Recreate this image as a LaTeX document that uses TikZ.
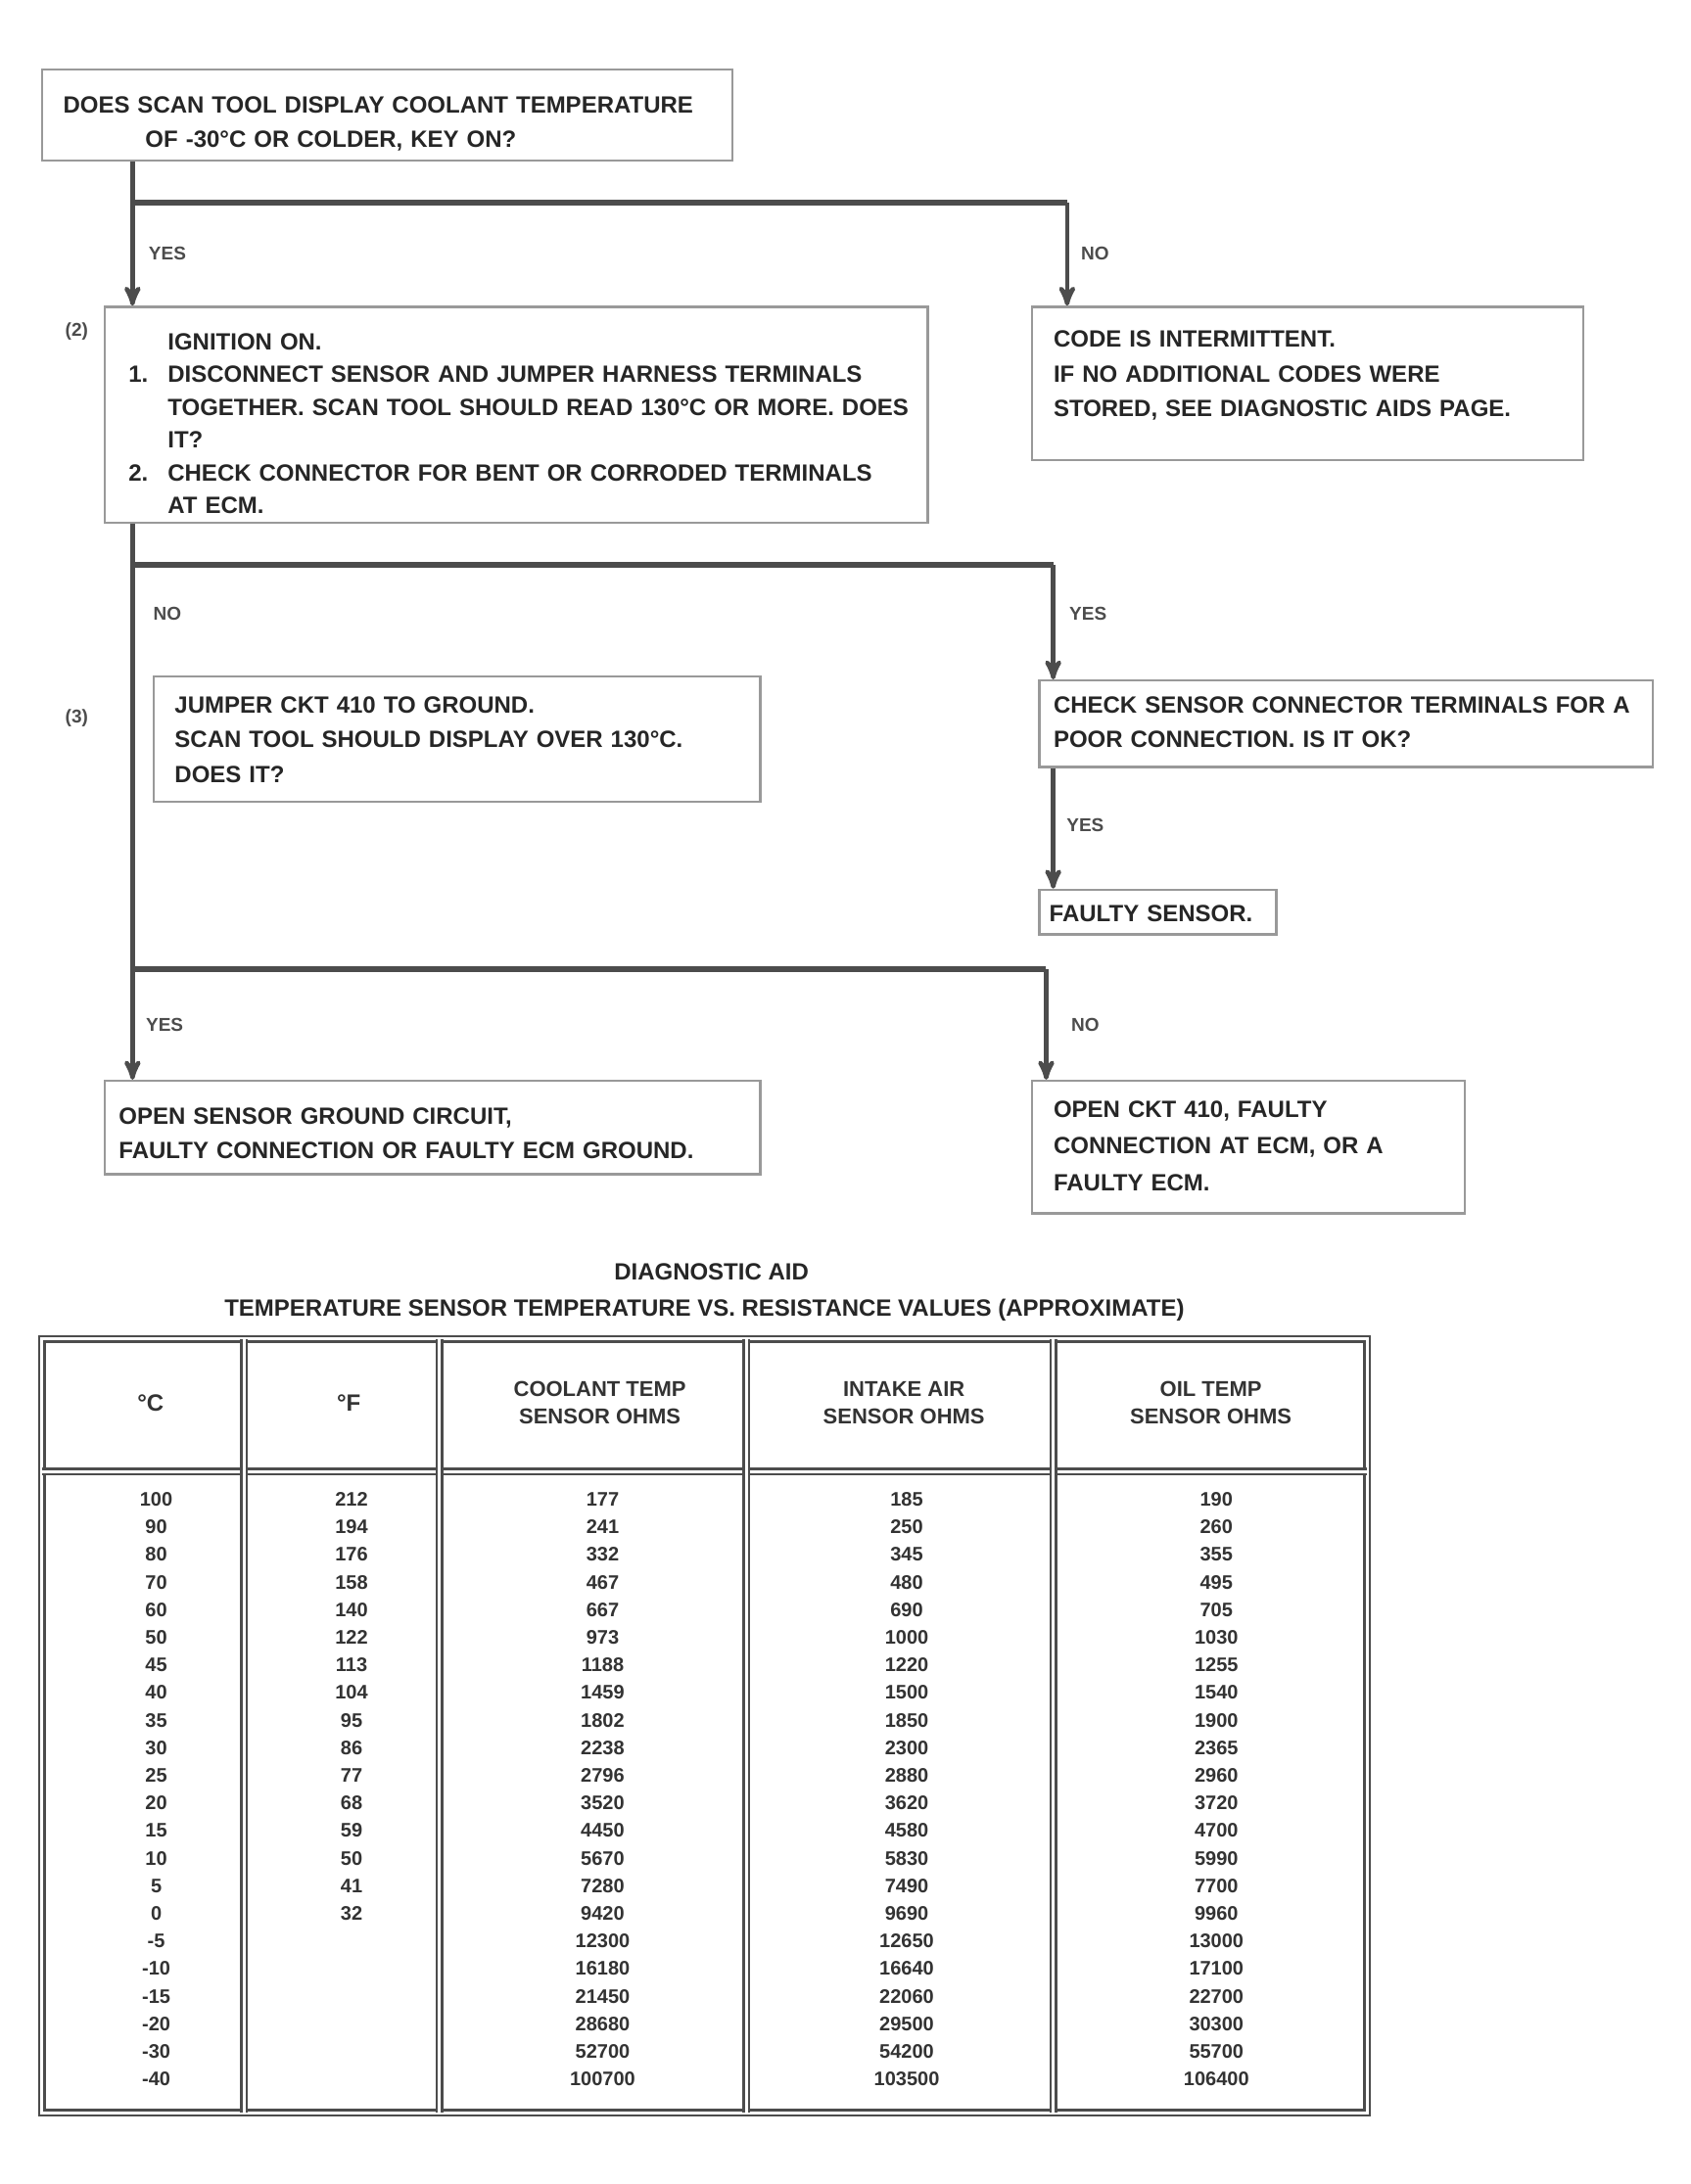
\documentclass[tikz,border=0pt]{standalone}
\usepackage{fontspec}
\setmainfont{Liberation Sans}
\usetikzlibrary{arrows,fit}

\begin{document}
\begin{tikzpicture}[x=0.7125pt,y=-0.7125pt,>=stealth',
    box/.style={draw=black!40,line width=1.2pt,inner sep=0pt},
    txt/.style={anchor=base west,align=left,inner sep=0pt,text width=420pt,
                font=\bfseries\fontsize{12}{17.8}\selectfont,text=black!85},
    bar/.style={line width=3pt,draw=black!70},
    drop/.style={line width=2.2pt,draw=black!70,->},
    lbl/.style={font=\bfseries\fontsize{9.5}{10}\selectfont,text=black!70,inner sep=0pt},
    cell/.style={font=\bfseries\fontsize{10}{12}\selectfont,text=black!80,inner sep=0pt},
    grid/.style={draw=black!70,double=white,double distance=1.5pt,line width=1.3pt}]

    \fill[white] (0,0) rectangle (1212,1566);
    \useasboundingbox (0,0) rectangle (1212,1566);

    % frames of the chart boxes
    \node[box,fit={(30,50) (525,115)}]    (start) {};
    \node[box,fit={(75,220) (665,375)}]   (jump)  {};
    \node[box,fit={(740,220) (1135,330)}] (inter) {};
    \node[box,fit={(110,485) (545,575)}]  (gnd)   {};
    \node[box,fit={(745,488) (1185,550)}] (conn)  {};
    \node[box,fit={(745,638) (915,670)}]  (sens)  {};
    \node[box,fit={(75,775) (545,842)}]   (opengnd) {};
    \node[box,fit={(740,775) (1050,870)}] (openckt) {};

    % texts of the chart boxes
    \node[txt] (startT) at (45,81) {DOES SCAN TOOL DISPLAY COOLANT TEMPERATURE\\
        \hspace*{42pt}OF -30°C OR COLDER, KEY ON?};
    \node[txt,font=\bfseries\fontsize{12}{16.7}\selectfont] (jumpT) at (120,251) {IGNITION ON.\\
        \leavevmode\llap{1.\hspace{10pt}}DISCONNECT SENSOR AND JUMPER HARNESS TERMINALS\\
        TOGETHER. SCAN TOOL SHOULD READ 130°C OR MORE. DOES\\
        IT?\\
        \leavevmode\llap{2.\hspace{10pt}}CHECK CONNECTOR FOR BENT OR CORRODED TERMINALS\\
        AT ECM.};
    \node[txt] (interT) at (755,249) {CODE IS INTERMITTENT.\\
        IF NO ADDITIONAL CODES WERE\\
        STORED, SEE DIAGNOSTIC AIDS PAGE.};
    \node[txt] (gndT) at (125,511) {JUMPER CKT 410 TO GROUND.\\
        SCAN TOOL SHOULD DISPLAY OVER 130°C.\\
        DOES IT?};
    \node[txt] (connT) at (755,511) {CHECK SENSOR CONNECTOR TERMINALS FOR A\\
        POOR CONNECTION. IS IT OK?};
    \node[txt] (sensT) at (752,661) {FAULTY SENSOR.};
    \node[txt] (opengndT) at (85,806) {OPEN SENSOR GROUND CIRCUIT,\\
        FAULTY CONNECTION OR FAULTY ECM GROUND.};
    \node[txt,font=\bfseries\fontsize{12}{18.8}\selectfont] (opencktT) at (755,801) {OPEN CKT 410, FAULTY\\
        CONNECTION AT ECM, OR A\\
        FAULTY ECM.};

    % step numbers beside the boxes
    \node[lbl] (n2) at (55,238) {(2)};
    \node[lbl] (n3) at (55,515) {(3)};

    % branch points
    \coordinate (br1l) at (95,145);  \coordinate (br1r) at (765,145);
    \coordinate (br2l) at (95,405);  \coordinate (br2r) at (755,405);
    \coordinate (br3l) at (95,695);  \coordinate (br3r) at (750,695);

    \draw[bar] (br1l) -- (br1r);
    \draw[bar] (br2l) -- (br2r);
    \draw[bar] (br3l) -- (br3r);

    \draw[drop] (start.south -| br1l) -- (jump.north -| br1l);
    \draw[drop] (br1r) -- (inter.north -| br1r);
    \draw[drop,-] (jump.south -| br2l) -- (br2l);
    \draw[drop] (br2l) -- (opengnd.north -| br2l);
    \draw[drop] (br2r) -- (conn.north -| br2r);
    \draw[drop] (conn.south -| br2r) -- (sens.north -| br2r);
    \draw[drop] (br3r) -- (openckt.north -| br3r);

    % answers on the branches
    \node[lbl] (a1) at (120,182) {YES};
    \node[lbl] (a2) at (785,182) {NO};
    \node[lbl] (a3) at (120,440) {NO};
    \node[lbl] (a4) at (780,440) {YES};
    \node[lbl] (a5) at (778,592) {YES};
    \node[lbl] (a6) at (118,735) {YES};
    \node[lbl] (a7) at (778,735) {NO};

    % diagnostic aid table
    \node[txt,anchor=base,text width=,align=center] (aidT) at (510,918) {DIAGNOSTIC AID};
    \node[txt,anchor=base,text width=,align=center] (aidS) at (505,944)
        {TEMPERATURE SENSOR TEMPERATURE VS. RESISTANCE VALUES (APPROXIMATE)};

    \draw[grid] (30,960) rectangle (980,1515);
    \draw[grid] (30,1055) -- (980,1055);
    \foreach \cx in {175,315,535,755}
        \draw[grid] (\cx,960) -- (\cx,1515);

    \node[cell,font=\bfseries\fontsize{12}{13}\selectfont] (hC) at (108,1006) {°C};
    \node[cell,font=\bfseries\fontsize{12}{13}\selectfont] (hF) at (250,1006) {°F};
    \node[cell,align=center,font=\bfseries\fontsize{11}{14}\selectfont] (hA) at (430,1006) {COOLANT TEMP\\SENSOR OHMS};
    \node[cell,align=center,font=\bfseries\fontsize{11}{14}\selectfont] (hB) at (648,1006) {INTAKE AIR\\SENSOR OHMS};
    \node[cell,align=center,font=\bfseries\fontsize{11}{14}\selectfont] (hD) at (868,1006) {OIL TEMP\\SENSOR OHMS};

    \foreach \v [count=\i] in {100,90,80,70,60,50,45,40,35,30,25,20,15,10,5,0,-5,-10,-15,-20,-30,-40}
        \node[cell] (c1-\i) at (112,{1075+(\i-1)*19.8}) {\v};
    \foreach \v [count=\i] in {212,194,176,158,140,122,113,104,95,86,77,68,59,50,41,32}
        \node[cell] (c2-\i) at (252,{1075+(\i-1)*19.8}) {\v};
    \foreach \v [count=\i] in {177,241,332,467,667,973,1188,1459,1802,2238,2796,3520,4450,5670,7280,9420,12300,16180,21450,28680,52700,100700}
        \node[cell] (c3-\i) at (432,{1075+(\i-1)*19.8}) {\v};
    \foreach \v [count=\i] in {185,250,345,480,690,1000,1220,1500,1850,2300,2880,3620,4580,5830,7490,9690,12650,16640,22060,29500,54200,103500}
        \node[cell] (c4-\i) at (650,{1075+(\i-1)*19.8}) {\v};
    \foreach \v [count=\i] in {190,260,355,495,705,1030,1255,1540,1900,2365,2960,3720,4700,5990,7700,9960,13000,17100,22700,30300,55700,106400}
        \node[cell] (c5-\i) at (872,{1075+(\i-1)*19.8}) {\v};

\end{tikzpicture}
\end{document}
